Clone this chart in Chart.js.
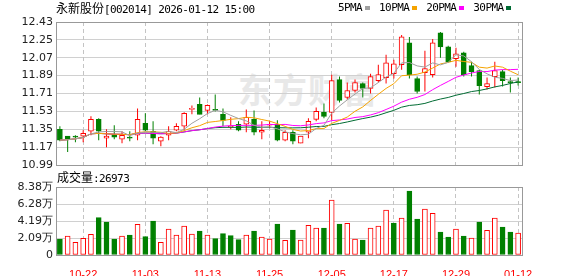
<!DOCTYPE html>
<html>
<head>
<meta charset="utf-8">
<script src="https://cdn.jsdelivr.net/npm/chart.js@4.4.1/dist/chart.umd.min.js"></script>
<style>
  body { margin: 0; background: #fff; width: 578px; height: 276px; overflow: hidden; position: relative;
         font-family: "Noto Sans CJK SC", sans-serif; }
  canvas { position: absolute; left: 0; z-index: 1; }
  #kline { top: 0; }
  #vol { top: 176px; }
  .t { position: absolute; white-space: nowrap; font-size: 12px; line-height: 14px; color: #000; z-index: 2; }
  .m { font-family: "DejaVu Sans Mono", monospace; font-size: 11px; letter-spacing: -0.6px; }
  #title { left: 56px; top: 1px; }
  #lg { left: 338px; top: 1px; display: flex; align-items: center; }
  #lg i { display: inline-block; width: 5px; height: 4px; margin: 0 9px 0 3px; }
  #vl { left: 57px; top: 170px; }
  #wm { position: absolute; left: 238px; top: 64px; font-size: 34px; font-weight: bold; color: #e8e8e8;
        letter-spacing: 1px; z-index: 0; }
</style>
</head>
<body>
<div id="wm">东方财富</div>
<div class="t" id="title"><span>永新股份</span><span class="m">[002014] 2026-01-12 15:00</span></div>
<div class="t" id="lg"></div>
<div class="t" id="vl"><span>成交量</span><span class="m" id="lastvol"></span></div>
<canvas id="kline" width="578" height="175"></canvas>
<canvas id="vol" width="578" height="100"></canvas>
<script>
// trading days shown (10-17 .. 01-12)
const dates = ['10-17','10-20','10-21','10-22','10-23','10-24','10-27','10-28','10-29','10-30','10-31',
  '11-03','11-04','11-05','11-06','11-07','11-10','11-11','11-12','11-13','11-14','11-17','11-18','11-19','11-20','11-21','11-24','11-25','11-26','11-27','11-28',
  '12-01','12-02','12-03','12-04','12-05','12-08','12-09','12-10','12-11','12-12','12-15','12-16','12-17','12-18','12-19','12-22','12-23','12-24','12-25','12-26','12-29','12-30','12-31',
  '01-05','01-06','01-07','01-08','01-09','01-12'];

const opens  = [11.35,11.28,11.28,11.28,11.33,11.45,11.26,11.30,11.25,11.27,11.29,11.41,11.33,11.23,11.29,11.34,11.38,11.55,11.60,11.54,
                11.55,11.50,11.37,11.40,11.40,11.45,11.32,11.39,11.40,11.24,11.32,11.21,11.32,11.45,11.52,11.52,11.85,11.67,11.74,11.81,
                11.76,11.84,11.87,11.91,12.00,12.22,11.86,11.92,11.90,12.32,12.18,12.06,12.12,11.99,11.94,11.78,11.88,11.93,11.83,11.83];
const highs  = [11.38,11.28,11.29,11.34,11.48,11.46,11.35,11.39,11.33,11.33,11.56,11.51,11.43,11.28,11.38,11.41,11.52,11.59,11.67,11.60,
                11.70,11.56,11.47,11.43,11.55,11.54,11.43,11.43,11.44,11.34,11.34,11.28,11.46,11.57,11.61,11.90,11.88,11.82,11.85,11.82,
                11.91,12.00,12.10,12.05,12.30,12.28,11.88,12.14,12.26,12.33,12.19,12.17,12.13,12.03,11.95,11.87,12.03,11.95,11.87,11.87];
const lows   = [11.23,11.12,11.22,11.22,11.29,11.24,11.17,11.25,11.21,11.23,11.24,11.33,11.20,11.18,11.24,11.33,11.34,11.50,11.50,11.50,
                11.53,11.38,11.35,11.33,11.32,11.29,11.25,11.36,11.23,11.23,11.20,11.21,11.26,11.43,11.46,11.44,11.62,11.65,11.72,11.67,
                11.71,11.82,11.81,11.86,11.95,11.86,11.71,11.73,11.87,12.07,12.02,11.98,11.88,11.88,11.70,11.75,11.77,11.78,11.72,11.79];
const closes = [11.24,11.25,11.27,11.31,11.45,11.33,11.28,11.27,11.29,11.26,11.45,11.34,11.26,11.27,11.33,11.38,11.51,11.56,11.50,11.59,
                11.54,11.44,11.38,11.34,11.47,11.32,11.34,11.40,11.24,11.32,11.23,11.28,11.43,11.53,11.48,11.84,11.64,11.74,11.82,11.76,
                11.88,11.90,12.02,12.01,12.28,11.90,11.73,11.96,12.22,12.18,12.03,12.11,11.90,11.93,11.79,11.81,11.94,11.84,11.82,11.82];
const volumes = [19700,23400,15600,20600,25500,46000,40700,19700,23400,24600,37800,22600,41900,15600,32000,24600,35700,25900,29600,24600,
                 20100,26300,23800,18900,24600,29600,22200,19700,38200,18100,30800,18500,36600,33300,33300,67800,38200,39000,19700,18500,
                 33300,35700,55500,39400,45600,78900,44400,56700,51400,28300,22200,32000,23400,20900,40700,30400,45600,34500,28300,26973];

const priceTicks = [10.99,11.17,11.35,11.53,11.71,11.89,12.07,12.25,12.43];
const volTicks = [0,20950,41900,62850,83800];
const volTickLabels = ['0','2.09万','4.19万','6.28万','8.38万'];
const maPeriods = [5,10,20,30];
const maColors = ['#a0a0a0','#f5a300','#ff00ff','#006b33'];

const upColor = '#ff0000', downColor = '#008000', gridColor = '#d0d0d0', dashColor = '#c4c4c4';

// moving average of the closes (window shortened at the start)
function ma(n) {
  return closes.map((c, i) => {
    const s = closes.slice(Math.max(0, i - n + 1), i + 1);
    return s.reduce((a, b) => a + b, 0) / s.length;
  });
}

const candleUp = closes.map((c, i) => c >= opens[i]);
const candleColor = candleUp.map(u => u ? upColor : downColor);
const volUp = closes.map((c, i) => i === 0 ? c >= opens[0] : c >= closes[i - 1]);

// legend + last volume
const lg = document.getElementById('lg');
maPeriods.forEach((p, k) => {
  lg.innerHTML += `<span class="m">${p}PMA</span><i style="background:${maColors[k]}"></i>`;
});
document.getElementById('lastvol').textContent = ':' + volumes[volumes.length - 1];

// dashed date lines (every 8th day) and the outer box
const frame = {
  id: 'frame',
  beforeDatasetsDraw(chart) {
    const { ctx, chartArea: a, scales: { x } } = chart;
    ctx.save();
    ctx.strokeStyle = dashColor;
    ctx.lineWidth = 1;
    ctx.setLineDash([4, 3]);
    dates.forEach((d, i) => {
      if (i % 8 !== 3) return;
      const px = Math.floor(x.getPixelForValue(i)) + 0.5;
      ctx.beginPath();
      ctx.moveTo(px, a.top);
      ctx.lineTo(px, a.bottom);
      ctx.stroke();
    });
    ctx.restore();
  },
  afterDatasetsDraw(chart) {
    const { ctx, chartArea: a } = chart;
    ctx.save();
    ctx.strokeStyle = '#999';
    ctx.lineWidth = 1;
    const l = Math.floor(a.left), t = Math.floor(a.top);
    ctx.strokeRect(l + 0.5, t + 0.5, Math.floor(a.right) - l, Math.floor(a.bottom) - t);
    ctx.restore();
  }
};

const yFont = { family: 'DejaVu Sans', size: 11 };

new Chart(document.getElementById('kline'), {
  type: 'bar',
  data: {
    labels: dates,
    datasets: [
      ...maPeriods.map((p, k) => ({
        type: 'line', label: p + 'PMA', data: ma(p), borderColor: maColors[k],
        borderWidth: 1, pointRadius: 0, tension: 0, order: k
      })),
      {
        label: 'body', data: opens.map((o, i) => [o, closes[i]]),
        backgroundColor: candleUp.map(u => u ? '#ffffff' : downColor), borderColor: candleColor,
        borderWidth: 1, borderSkipped: false, barThickness: 5, minBarLength: 1, grouped: false, order: 5
      },
      {
        label: 'wick', data: lows.map((l, i) => [l, highs[i]]),
        backgroundColor: candleColor, borderWidth: 0, barThickness: 1, inflateAmount: 0, grouped: false, order: 6
      }
    ]
  },
  options: {
    responsive: false, animation: false, events: [],
    layout: { padding: { top: 22, right: 56, bottom: 10, left: 0 } },
    plugins: { legend: { display: false }, tooltip: { enabled: false } },
    scales: {
      x: {
        offset: true, ticks: { display: false }, grid: { display: false },
        border: { display: false },
        afterFit: s => { s.height = 0; }
      },
      y: {
        min: priceTicks[0], max: priceTicks[priceTicks.length - 1],
        afterBuildTicks: s => { s.ticks = priceTicks.map(v => ({ value: v })); },
        ticks: { padding: 3, color: '#222', font: yFont, callback: v => v.toFixed(2) },
        grid: { color: gridColor, drawTicks: false },
        border: { display: false },
        afterFit: s => { s.width = 56; }
      }
    }
  },
  plugins: [frame]
});

new Chart(document.getElementById('vol'), {
  type: 'bar',
  data: {
    labels: dates,
    datasets: [{
      label: '成交量', data: volumes,
      backgroundColor: volUp.map(u => u ? '#ffffff' : downColor),
      borderColor: volUp.map(u => u ? upColor : downColor),
      borderWidth: 1, borderSkipped: false, barThickness: 5
    }]
  },
  options: {
    responsive: false, animation: false, events: [],
    layout: { padding: { top: 11, right: 56, bottom: 0, left: 0 } },
    plugins: { legend: { display: false }, tooltip: { enabled: false } },
    scales: {
      x: {
        offset: true, grid: { display: false },
        border: { display: false },
        ticks: {
          autoSkip: false, maxRotation: 0, minRotation: 0, padding: 5, color: '#ff0000',
          font: { family: 'Liberation Sans', size: 11 },
          callback: (v, i) => i % 8 === 3 ? dates[i] : ''
        },
        afterFit: s => { s.height = 21; }
      },
      y: {
        min: volTicks[0], max: volTicks[volTicks.length - 1],
        afterBuildTicks: s => { s.ticks = volTicks.map(v => ({ value: v })); },
        ticks: { padding: 3, color: '#222', font: yFont, callback: (v, i) => volTickLabels[i] },
        grid: { color: gridColor, drawTicks: false },
        border: { display: false },
        afterFit: s => { s.width = 56; }
      }
    }
  },
  plugins: [frame]
});
</script>
</body>
</html>
